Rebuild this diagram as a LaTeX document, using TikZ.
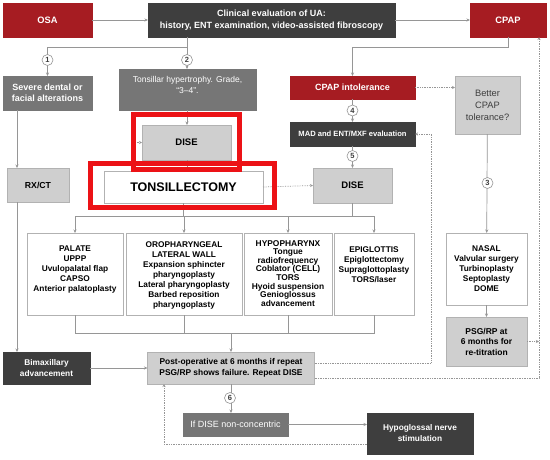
\documentclass[tikz,border=0pt]{standalone}
\usepackage{fontspec}
\setmainfont{Liberation Sans}
\usetikzlibrary{arrows.meta}
\definecolor{redb}{RGB}{166,28,34}
\definecolor{darkb}{RGB}{62,62,62}
\definecolor{midb}{RGB}{118,118,118}
\definecolor{lightb}{RGB}{207,207,207}
\definecolor{bord}{RGB}{178,178,178}
\definecolor{linec}{RGB}{150,150,150}
\definecolor{hred}{RGB}{236,18,22}
\tikzset{
  box/.style={draw=bord, line width=0.6pt, align=center, inner sep=1pt, outer sep=0pt, font=\fontsize{8.3}{10}\selectfont\bfseries},
  redbox/.style={box, fill=redb, draw=redb, text=white},
  darkbox/.style={box, fill=darkb, draw=darkb, text=white},
  midbox/.style={box, fill=midb, draw=midb, text=white},
  lightbox/.style={box, fill=lightb},
  whitebox/.style={box, fill=white},
  txt/.style={align=center, inner sep=0pt, font=\fontsize{8.3}{10}\selectfont\bfseries},
  conn/.style={draw=linec, line width=0.7pt},
  arr/.style={conn, -{Stealth[length=3.5pt,width=3pt]}},
  dots/.style={draw=linec, line width=0.7pt, densely dotted, -{Stealth[length=3pt,width=3pt,open]}},
  num/.style={circle, draw=linec, fill=white, line width=0.6pt, inner sep=0pt, minimum size=11pt, font=\fontsize{7.5}{7.5}\selectfont\bfseries, text=darkb},
  hilite/.style={draw=hred, line width=5pt},
}
\begin{document}
\begin{tikzpicture}[x=1pt,y=-1pt]
\useasboundingbox[fill=white] (0,0) rectangle (550,459);

% top row
\node[redbox, minimum width=89pt, minimum height=34pt, font=\fontsize{9.3}{11}\selectfont\bfseries] (osa) at (47.5,20) {OSA};
\node[darkbox, minimum width=247pt, minimum height=34pt, font=\fontsize{9}{12}\selectfont\bfseries] (clin) at (271.5,20) {Clinical evaluation of UA:\\history, ENT examination, video-assisted fibroscopy};
\node[redbox, minimum width=76pt, minimum height=34pt, font=\fontsize{9.3}{11}\selectfont\bfseries] (cpap) at (508,20) {CPAP};

% left column
\node[midbox, minimum width=89pt, minimum height=34pt, font=\fontsize{9}{11.5}\selectfont\bfseries] (severe) at (47.5,93) {Severe dental or\\facial alterations};
\node[lightbox, minimum width=62pt, minimum height=34pt, font=\fontsize{8.7}{10}\selectfont\bfseries] (rxct) at (38,185) {RX/CT};
\node[darkbox, minimum width=87pt, minimum height=32pt, font=\fontsize{8.3}{10.5}\selectfont\bfseries] (bimax) at (46.5,368) {Bimaxillary\\advancement};

% tonsil column
\node[midbox, minimum width=137pt, minimum height=41pt] (tons) at (187.5,89.5) {};
\node[txt, text=white, font=\fontsize{8.5}{11}\selectfont] (tonst) at (187.5,84.5) {Tonsillar hypertrophy. Grade,\\“3–4”.};
\node[lightbox, minimum width=89pt, minimum height=35pt, font=\fontsize{9.5}{10}\selectfont\bfseries] (dise1) at (186.5,142.5) {DISE};
\node[whitebox, minimum width=159pt, minimum height=32pt, font=\fontsize{12.5}{14}\selectfont\bfseries] (tonsil) at (183.5,187) {TONSILLECTOMY};

% CPAP column
\node[redbox, minimum width=125pt, minimum height=23pt, font=\fontsize{9}{10}\selectfont\bfseries] (cpapint) at (352.5,87.5) {CPAP intolerance};
\node[darkbox, minimum width=125pt, minimum height=24pt, font=\fontsize{7.6}{9}\selectfont\bfseries] (mad) at (352.5,134) {MAD and ENT/MXF evaluation};
\node[lightbox, minimum width=79pt, minimum height=35pt, font=\fontsize{9.5}{10}\selectfont\bfseries] (dise2) at (352.5,185.5) {DISE};
\node[lightbox, minimum width=65pt, minimum height=58pt, font=\fontsize{9.3}{12}\selectfont, text=darkb] (better) at (487.5,105) {Better\\CPAP\\tolerance?};
\node[whitebox, minimum width=81pt, minimum height=72pt] (nasal) at (486.5,269) {NASAL\\Valvular surgery\\Turbinoplasty\\Septoplasty\\DOME};
\node[lightbox, minimum width=81pt, minimum height=49pt, font=\fontsize{8.5}{10.5}\selectfont\bfseries] (psg) at (486.5,341.5) {PSG/RP at\\6 months for\\re-titration};

% procedure boxes
\node[whitebox, minimum width=96pt, minimum height=82pt] (palate) at (75,274) {};
\node[whitebox, minimum width=116pt, minimum height=82pt] (oro) at (184,274) {};
\node[whitebox, minimum width=88pt, minimum height=82pt] (hypo) at (288,274) {};
\node[whitebox, minimum width=80pt, minimum height=82pt] (epi) at (374,274) {};
\node[txt, anchor=north] (palatet) at (75,246) {PALATE\\UPPP\\Uvulopalatal flap\\CAPSO\\Anterior palatoplasty};
\node[txt, anchor=north] (orot) at (184,241) {OROPHARYNGEAL\\LATERAL WALL\\Expansion sphincter\\pharyngoplasty\\Lateral pharyngoplasty\\Barbed reposition\\pharyngoplasty};
\node[txt, anchor=north, font=\fontsize{8.4}{8.6}\selectfont\bfseries] (hypot) at (288,240) {HYPOPHARYNX\\Tongue\\radiofrequency\\Coblator (CELL)\\TORS\\Hyoid suspension\\Genioglossus\\advancement};
\node[txt, anchor=north] (epit) at (374,246) {EPIGLOTTIS\\Epiglottectomy\\Supraglottoplasty\\TORS/laser};

% bottom
\node[lightbox, minimum width=167pt, minimum height=32pt, font=\fontsize{8.4}{10.5}\selectfont\bfseries] (postop) at (231,368) {Post-operative at 6 months if repeat\\PSG/RP shows failure. Repeat DISE};
\node[midbox, minimum width=105pt, minimum height=23pt, font=\fontsize{9}{10}\selectfont] (ifdise) at (235.5,424.5) {If DISE non-concentric};
\node[darkbox, minimum width=106pt, minimum height=41pt, font=\fontsize{8.3}{11}\selectfont\bfseries] (hypog) at (420,433.5) {Hypoglossal nerve\\stimulation};

% helper coordinates
\coordinate (j1) at (187,47);
\coordinate (j2) at (352.5,47);
\coordinate (lx) at (17,0);
\coordinate (bus1) at (0,216);
\coordinate (bus2) at (0,333);
\coordinate (rx) at (539,0);
\coordinate (mx) at (431,0);
\coordinate (dx) at (164,0);
\coordinate (dstub) at (135,142.5);

% connectors
\draw[arr] (osa) -- (clin);
\draw[arr] (clin) -- (cpap);
\draw[conn] (clin.south -| j1) -- (j1) -- (severe.north |- j1);
\draw[arr] (severe.north |- j1) -- (severe.north);
\draw[arr] (j1) -- (tons.north -| j1);
\draw[arr] (tons.south -| j1) -- (dise1.north -| j1);
\draw[conn] (dise1.south -| j1) -- (tonsil.north -| j1);
\draw[dots] (dstub) -- (dise1.west);
\draw[dots] (tonsil.east) -- (dise2.west);

\draw[conn] (cpap.south) -- (cpap.south |- j2) -- (j2);
\draw[arr] (j2) -- (cpapint.north);
\draw[arr] (cpapint) -- (mad);
\draw[arr] (mad) -- (dise2);
\draw[dots] (cpapint.east) -- (cpapint.east -| better.west);
\draw[arr] (better) -- (nasal);
\draw[arr] (nasal) -- (psg);

\draw[arr] (severe.south -| lx) -- (rxct.north -| lx);
\draw[arr] (rxct.south -| lx) -- (bimax.north -| lx);

% bus to procedure boxes
\draw[conn] (tonsil.south) -- (tonsil.south |- bus1);
\draw[conn] (dise2.south) -- (dise2.south |- bus1);
\draw[conn] (palate.north |- bus1) -- (epi.north |- bus1);
\draw[arr] (palate.north |- bus1) -- (palate.north);
\draw[arr] (oro.north |- bus1) -- (oro.north);
\draw[arr] (hypo.north |- bus1) -- (hypo.north);
\draw[arr] (epi.north |- bus1) -- (epi.north);
\draw[conn] (palate.south) -- (palate.south |- bus2) -- (epi.south |- bus2) -- (epi.south);
\draw[conn] (oro.south) -- (oro.south |- bus2);
\draw[conn] (hypo.south) -- (hypo.south |- bus2);
\draw[arr] (postop.north |- bus2) -- (postop.north);

\draw[arr] (bimax) -- (postop);
\draw[arr] (postop) -- (postop.south |- ifdise.north);
\draw[arr] (ifdise.east) -- (ifdise.east -| hypog.west);

% dotted feedback
\draw[dots] ([yshift=-10pt]postop.east) -- ([yshift=-10pt]postop.east -| rx) -- (cpap.south -| rx);
\draw[dots] (psg.east) -- (psg.east -| rx);
\draw[dots] ([yshift=5pt]postop.east) -- ([yshift=5pt]postop.east -| mx) -- (mad.east -| mx) -- (mad.east);
\draw[dots] ([yshift=-10.5pt]hypog.west) -- ([yshift=-10.5pt]hypog.west -| dx) -- (postop.south -| dx);

% number circles
\node[num] (n1) at (47.5,60) {1};
\node[num] (n2) at (187,60) {2};
\node[num] (n4) at (352.5,110.5) {4};
\node[num] (n5) at (352.5,156) {5};
\node[num] (n3) at (487.5,183) {3};
\node[num] (n6) at (230,398) {6};

% red highlight boxes
\draw[hilite] (133.5,114.5) rectangle (239.5,169.5);
\draw[hilite] (90.5,163.5) rectangle (274.5,207.5);
\end{tikzpicture}
\end{document}
